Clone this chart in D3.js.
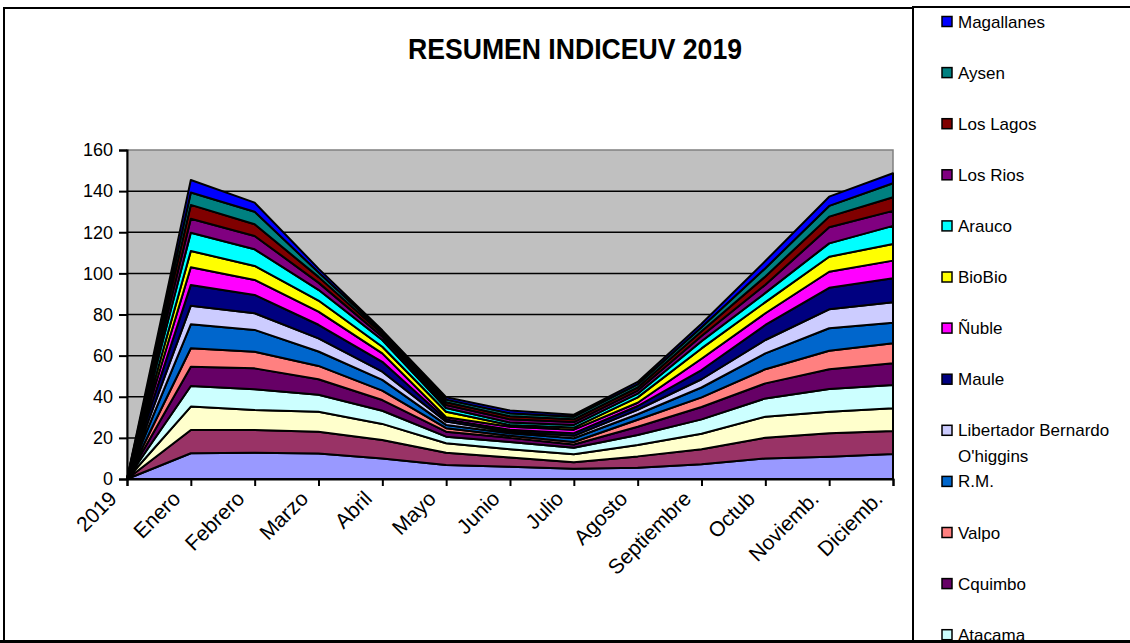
<!DOCTYPE html>
<html>
<head>
<meta charset="utf-8">
<script src="https://cdn.jsdelivr.net/npm/d3@7"></script>
<style>
  body { margin: 0; background: #fff; }
  svg { display: block; font-family: "Liberation Sans", Arial, sans-serif; }
</style>
</head>
<body>
<div id="chart-container"></div>
<script>
// months (first point is the 2019 origin)
const categories = ["2019", "Enero", "Febrero", "Marzo", "Abril", "Mayo", "Junio", "Julio",
    "Agosto", "Septiembre", "Octub", "Noviemb.", "Diciemb."];

// series, bottom of the stack first
const seriesNames = ["Arica", "Iquique", "Antofagasta", "Atacama", "Cquimbo", "Valpo", "R.M.",
    "Libertador Bernardo O'higgins", "Maule", "Ñuble", "BioBio", "Arauco", "Los Rios",
    "Los Lagos", "Aysen", "Magallanes"];

const arica       = [0, 12.5, 12.8, 12.4, 10.0, 6.8, 6.0, 5.0, 5.5, 7.2, 10.0, 10.8, 12.2];
const iquique     = [0, 11.3, 11.0, 10.6, 9.0, 6.0, 4.5, 3.2, 5.5, 7.3, 10.1, 11.4, 11.1];
const antofagasta = [0, 11.4, 9.8, 9.7, 7.8, 4.6, 4.0, 3.8, 5.5, 7.5, 10.2, 10.5, 11.1];
const atacama     = [0, 10.0, 10.0, 8.3, 6.4, 3.2, 3.5, 3.2, 4.9, 7.0, 8.9, 11.1, 11.3];
const cquimbo     = [0, 9.4, 10.2, 7.5, 5.2, 2.4, 2.0, 1.6, 4.0, 6.0, 7.3, 9.6, 10.6];
const valpo       = [0, 9.0, 8.1, 6.5, 4.6, 1.7, 1.0, 1.2, 3.4, 4.7, 6.9, 9.0, 9.7];
const rm          = [0, 11.6, 10.6, 7.0, 5.2, 1.6, 1.2, 1.8, 2.7, 4.8, 7.7, 10.9, 10.0];
const ohiggins    = [0, 9.1, 8.1, 6.4, 4.0, 1.6, 0.8, 1.2, 2.1, 4.0, 6.5, 9.2, 9.9];
const maule       = [0, 10.1, 8.9, 6.6, 4.8, 1.1, 1.0, 1.3, 1.9, 4.5, 7.3, 10.5, 11.7];
const nuble       = [0, 8.6, 7.3, 6.4, 4.1, 1.0, 1.4, 1.7, 1.6, 5.5, 5.7, 7.8, 8.6];
const biobio      = [0, 7.9, 6.8, 5.4, 3.2, 2.7, 0.9, 1.0, 2.6, 5.0, 5.4, 7.3, 8.1];
const arauco      = [0, 8.9, 8.1, 5.2, 3.3, 1.8, 1.2, 1.3, 1.8, 3.5, 4.5, 6.5, 8.8];
const losRios     = [0, 6.8, 6.5, 3.5, 1.6, 1.5, 1.5, 1.4, 1.5, 2.5, 4.0, 7.8, 7.3];
const losLagos    = [0, 6.7, 5.7, 2.8, 1.3, 1.3, 1.5, 1.3, 1.5, 2.3, 4.0, 5.2, 6.6];
const aysen       = [0, 6.0, 6.1, 2.2, 1.0, 1.3, 1.5, 1.3, 1.5, 2.0, 4.0, 5.2, 6.8];
const magallanes  = [0, 6.1, 4.4, 1.8, 0.8, 1.2, 1.3, 1.0, 1.2, 1.7, 3.5, 4.5, 4.9];

const seriesValues = [arica, iquique, antofagasta, atacama, cquimbo, valpo, rm, ohiggins,
    maule, nuble, biobio, arauco, losRios, losLagos, aysen, magallanes];

const colors = ["#9999FF", "#993366", "#FFFFCC", "#CCFFFF", "#660066", "#FF8080", "#0066CC",
    "#CCCCFF", "#000080", "#FF00FF", "#FFFF00", "#00FFFF", "#800080", "#800000", "#008080", "#0000FF"];

const yTicks = [0, 20, 40, 60, 80, 100, 120, 140, 160];

// page size and plot box
const W = 1130, H = 643;
const plot = {left: 127, right: 893, top: 150, bottom: 479};

const svg = d3.select("#chart-container")
    .append("svg")
        .attr("width", W)
        .attr("height", H);

// build table rows for d3.stack
const rows = categories.map((c, i) => {
    const r = {cat: c};
    seriesNames.forEach((n, k) => { r[n] = seriesValues[k][i]; });
    return r;
});
const stacked = d3.stack().keys(seriesNames)(rows);

// scales
const x = d3.scalePoint()
    .domain(categories)
    .range([plot.left, plot.right]);
const y = d3.scaleLinear()
    .domain([0, 160])
    .range([plot.bottom, plot.top]);

// frames
svg.append("rect")
    .attr("x", 4).attr("y", 8)
    .attr("width", 909).attr("height", 633)
    .attr("fill", "#fff").attr("stroke", "#000").attr("stroke-width", 2);
svg.append("rect")
    .attr("x", 913).attr("y", 7)
    .attr("width", 225).attr("height", 634)
    .attr("fill", "#fff").attr("stroke", "#000").attr("stroke-width", 2);

// plot background
svg.append("rect")
    .attr("x", plot.left).attr("y", plot.top)
    .attr("width", plot.right - plot.left).attr("height", plot.bottom - plot.top)
    .attr("fill", "#C0C0C0")
    .attr("stroke", "#808080").attr("stroke-width", 1.5);

// gridlines
svg.append("g")
    .selectAll("line")
    .data(yTicks.filter(d => d > 0 && d < 160))
    .join("line")
        .attr("x1", plot.left).attr("x2", plot.right)
        .attr("y1", d => y(d)).attr("y2", d => y(d))
        .attr("stroke", "#000").attr("stroke-width", 1.5);

// stacked areas
const area = d3.area()
    .x(d => x(d.data.cat))
    .y0(d => y(d[0]))
    .y1(d => y(d[1]));

svg.append("g")
    .selectAll("path")
    .data(stacked)
    .join("path")
        .attr("d", area)
        .attr("fill", (d, i) => colors[i])
        .attr("stroke", "#000")
        .attr("stroke-width", 2)
        .attr("stroke-linejoin", "round");

// y axis
const yAxis = d3.axisLeft(y).tickValues(yTicks).tickSize(8).tickPadding(6);
const gy = svg.append("g")
    .attr("transform", `translate(${plot.left},0)`)
    .call(yAxis);
gy.select(".domain").attr("stroke-width", 2);
gy.selectAll(".tick line").attr("stroke-width", 2);
gy.selectAll(".tick text")
    .style("font-size", "18px")
    .style("font-family", "'Liberation Sans', Arial, sans-serif")
    .attr("fill", "#000");

// x axis
const xAxis = d3.axisBottom(x).tickSize(7).tickFormat("");
const gx = svg.append("g")
    .attr("transform", `translate(0,${plot.bottom})`)
    .call(xAxis);
gx.select(".domain").attr("stroke-width", 2);
gx.selectAll(".tick line").attr("stroke-width", 2);

// rotated month labels
svg.append("g")
    .selectAll("text")
    .data(categories)
    .join("text")
        .attr("transform", d => `translate(${x(d) - 9},${plot.bottom + 21}) rotate(-45)`)
        .attr("text-anchor", "end")
        .style("font-size", "21px")
        .text(d => d);

// title
svg.append("text")
    .attr("x", 575)
    .attr("y", 59)
    .attr("text-anchor", "middle")
    .attr("textLength", 334)
    .attr("lengthAdjust", "spacingAndGlyphs")
    .style("font-size", "29px")
    .style("font-weight", "bold")
    .text("RESUMEN INDICEUV 2019");

// legend, top series first; entries below the frame are not drawn
const legendItems = seriesNames.map((n, i) => ({name: n, color: colors[i]})).reverse();
const legend = svg.append("g");
legendItems.forEach((d, i) => {
    const cy = 21.5 + i * 51.1;
    if (cy > H) return;
    legend.append("rect")
        .attr("x", 942).attr("y", cy - 5)
        .attr("width", 10).attr("height", 10)
        .attr("fill", d.color)
        .attr("stroke", "#000").attr("stroke-width", 1.5);
    const t = legend.append("text")
        .attr("x", 958)
        .attr("y", cy + 6)
        .style("font-size", "17px");
    if (d.name.startsWith("Libertador")) {
        t.append("tspan").text("Libertador Bernardo");
        t.append("tspan").attr("x", 958).attr("dy", 26).text("O'higgins");
    } else {
        t.text(d.name);
    }
});

// heavy bottom edge drawn last
svg.append("line")
    .attr("x1", 0).attr("x2", W)
    .attr("y1", 641.5).attr("y2", 641.5)
    .attr("stroke", "#000").attr("stroke-width", 3);
</script>
</body>
</html>
